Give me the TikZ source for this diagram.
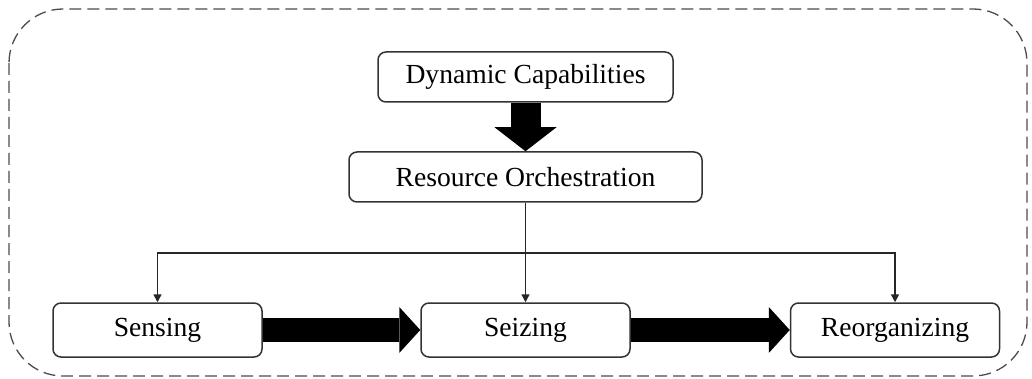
\documentclass[tikz,border=0pt]{standalone}
\usepackage{fontspec}
\setmainfont{Liberation Serif}
\usetikzlibrary{arrows.meta, positioning}

\begin{document}
\begin{tikzpicture}[
    x=0.5pt, y=-0.5pt,
    box/.style={rectangle, draw=black!80, line width=0.75pt, rounded corners=4pt, align=center, inner sep=0pt, font=\fontsize{13.8}{16}\selectfont},
    topbox/.style={box, minimum height=25pt},
    stagebox/.style={box, minimum width=104.5pt, minimum height=27pt},
    link/.style={-{Triangle[length=4pt,width=4pt]}, line width=0.75pt, black!85},
    bigflow/.style={line width=12pt, -{Triangle[length=10.5pt,width=23pt,line width=0pt]}},
    bigdown/.style={line width=15pt, -{Triangle[length=12pt,width=31pt,line width=0pt]}}
]
\useasboundingbox (0,0) rectangle (1032,379);

% Frame
\draw[dash pattern=on 6pt off 3pt, line width=0.65pt, black!70, rounded corners=27pt] (9,9) rectangle (1027,376);

% Nodes
\node[topbox, minimum width=147.5pt] (dyncap) at (525.5,77) {Dynamic Capabilities};
\node[topbox, minimum width=176.5pt] (orch) at (525.5,177) {Resource Orchestration};
\node[stagebox] (sensing) at (157.5,330) {Sensing};
\node[stagebox] (seizing) at (525.5,330) {Seizing};
\node[stagebox] (reorg) at (895,330) {Reorganizing};
\coordinate (split) at (525.5,253);

% Arrows
\draw[bigdown] (dyncap.south) -- (orch.north);
\draw[link] (orch.south) -- (seizing.north);
\draw[link] (split) -| (sensing.north);
\draw[link] (split) -| (reorg.north);
\draw[bigflow] (sensing.east) -- (seizing.west);
\draw[bigflow] (seizing.east) -- (reorg.west);

\end{tikzpicture}
\end{document}
